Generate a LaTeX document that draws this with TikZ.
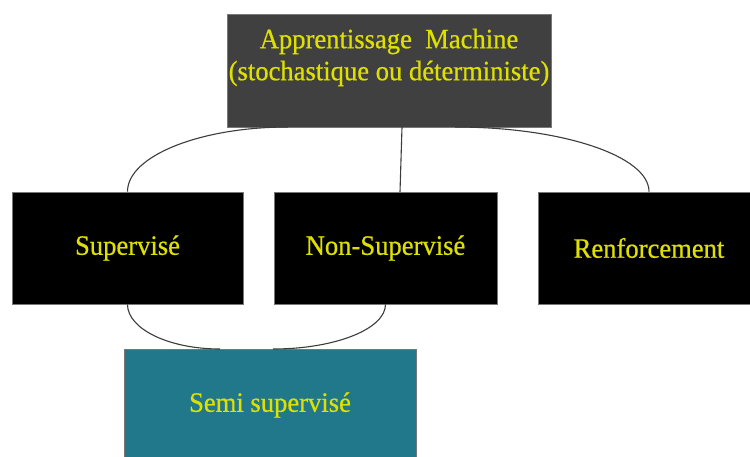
\documentclass[tikz,border=0pt]{standalone}
\usepackage{fontspec}
\setmainfont{Liberation Serif}[FakeBold=0.6, FakeStretch=0.95]
\usetikzlibrary{calc}
\definecolor{boxgray}{RGB}{64,64,64}
\definecolor{teal1}{RGB}{33,120,138}
\definecolor{txtyellow}{RGB}{222,224,0}
\definecolor{linegray}{RGB}{60,60,60}
\definecolor{edgegray}{RGB}{120,120,120}
\tikzset{
  box/.style={rectangle, draw=edgegray, line width=0.8pt, inner sep=0pt, align=center,
    text=txtyellow, font=\fontsize{28}{32}\selectfont},
  conn/.style={draw=linegray, line width=1.1pt},
}
\begin{document}
\begin{tikzpicture}[x=1pt,y=-1pt]
\useasboundingbox (0,0) rectangle (750,456);
\clip (0,0) rectangle (750,456);
\fill[white] (0,0) rectangle (750,456);
\node[box, fill=boxgray, minimum width=324pt, minimum height=113pt] (top) at (389,70.5)
  {Apprentissage\ \ Machine\\(stochastique ou déterministe)\\~};
\node[box, fill=black, minimum width=231pt, minimum height=112pt] (sup) at (127.5,248) {Supervisé};
\node[box, fill=black, minimum width=223pt, minimum height=112pt] (nonsup) at (385.5,248) {Non-Supervisé};
\node[box, fill=black, minimum width=222pt, minimum height=112pt] (renf) at (649,248) {Renforcement};
\node[box, fill=teal1, minimum width=292pt, minimum height=112pt] (semi) at (270,405) {Semi supervisé};
\coordinate (tl) at (288,127);
\coordinate (tm) at (402,127);
\coordinate (tr) at (455,127);
\coordinate (nm) at (400,192);
\coordinate (sl) at (220,349);
\coordinate (sr) at (273,349);
\draw[conn] (sup.north) .. controls (127.5,156) and (200,127) .. (tl);
\draw[conn] (tr) .. controls (562,127) and (649,156) .. (renf.north);
\draw[conn] (tm) -- (nm);
\draw[conn] (sup.south) .. controls (127.5,329) and (169,349) .. (sl);
\draw[conn] (nonsup.south) .. controls (385.5,329) and (335,349) .. (sr);
\end{tikzpicture}
\end{document}
